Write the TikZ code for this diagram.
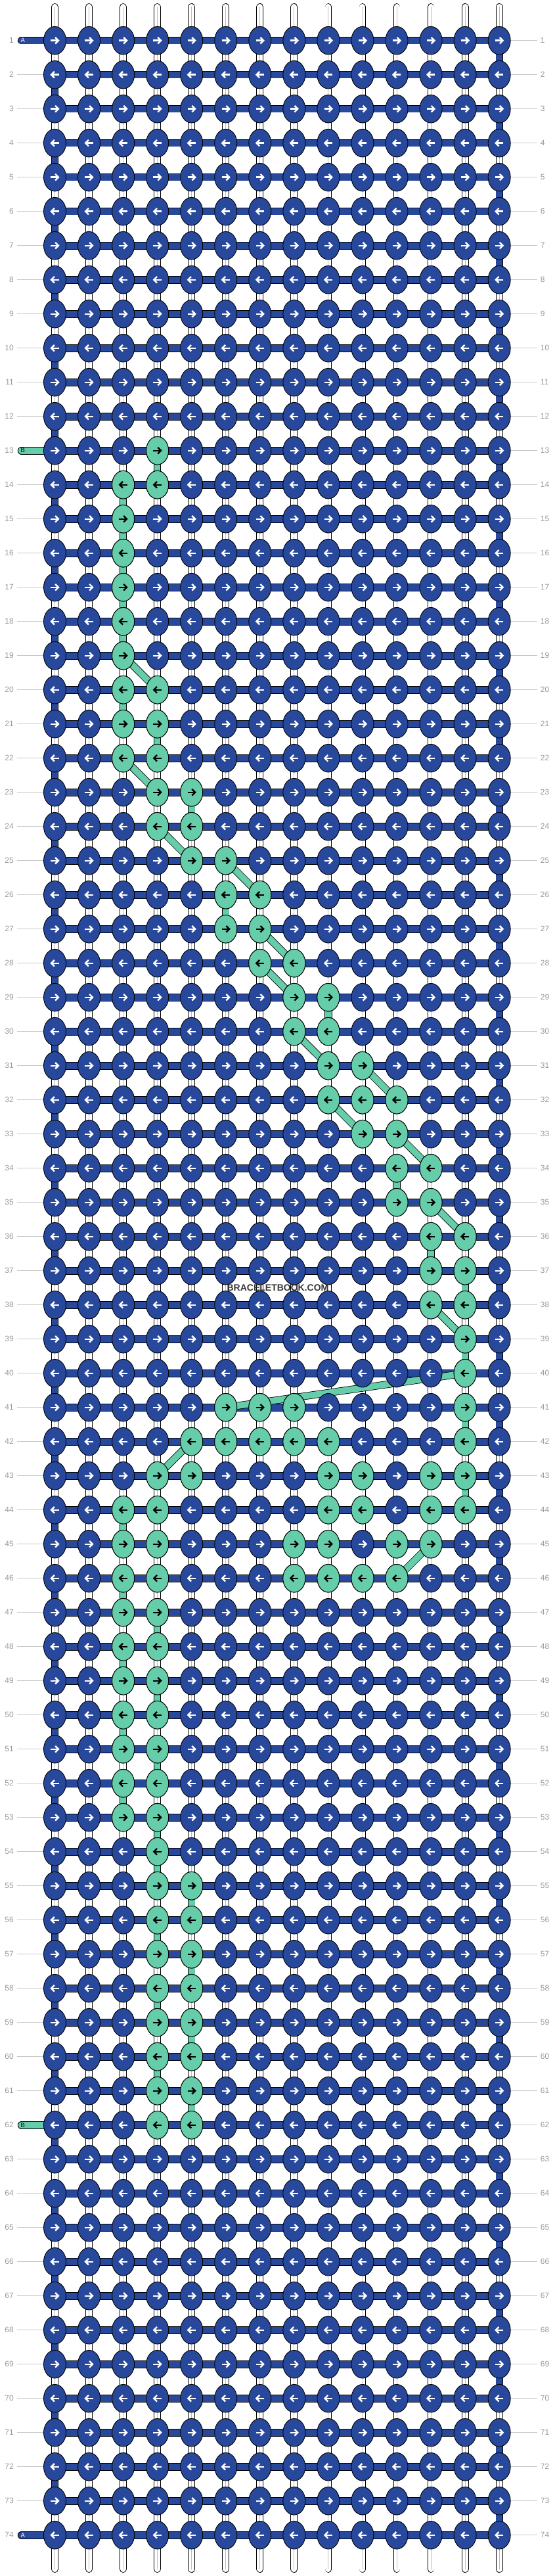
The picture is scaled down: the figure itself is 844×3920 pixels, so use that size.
\documentclass[tikz,border=0pt]{standalone}
\usepackage{fontspec}
\setmainfont{Liberation Sans}
\usetikzlibrary{shapes.geometric}
\definecolor{kblue}{HTML}{28489B}
\definecolor{kgreen}{HTML}{66CDAA}
\definecolor{numgray}{HTML}{9A9A9A}
\definecolor{linegray}{HTML}{C8C8C8}
\definecolor{warpline}{HTML}{BDBDBD}
\tikzset{
  knot/.style={ellipse, draw=black, line width=0.9pt, minimum width=34pt, minimum height=42.6pt, inner sep=0pt},
  bluek/.style={knot, fill=kblue},
  greenk/.style={knot, fill=kgreen},
  numlab/.style={text=numgray, font=\fontsize{12}{14}\selectfont, inner sep=0pt},
  gline/.style={draw=linegray, line width=0.9pt},
  outl/.style={draw=black, line width=11.6pt},
  inl/.style={line width=9.9pt},
  arrR/.pic={\draw[line width=2.4pt, line cap=butt, line join=miter] (-6.2,0) -- (5.0,0);
             \draw[line width=2.4pt, line cap=butt, line join=miter] (0.6,-4.8) -- (5.4,0) -- (0.6,4.8);},
  arrL/.pic={\draw[line width=2.4pt, line cap=butt, line join=miter] (6.2,0) -- (-5.0,0);
             \draw[line width=2.4pt, line cap=butt, line join=miter] (-0.6,-4.8) -- (-5.4,0) -- (-0.6,4.8);},
  wm/.style={font=\bfseries\fontsize{14}{16}\selectfont, inner sep=0pt}
}
\begin{document}
\begin{tikzpicture}[x=1pt,y=-1pt]
\fill[white] (0,0) rectangle (844,3920);
\useasboundingbox (0,0) rectangle (844,3920);
% knot positions
\foreach \r in {1,...,74}{
  \foreach \c in {1,...,14}{
    \coordinate (p-\r-\c) at ({83.5+52.05*(\c-1)},{61.7+52*(\r-1)});
  }
}
% warp ends
\foreach \c in {1,...,14}{
  \coordinate (wt-\c) at ({83.5+52.05*(\c-1)},10.4);
  \coordinate (wb-\c) at ({83.5+52.05*(\c-1)},3909.6);
  \draw[black, line width=10.8pt, line cap=round] (wt-\c) -- (wb-\c);
  \draw[white, line width=9.0pt, line cap=round] (wt-\c) -- (wb-\c);
  \draw[warpline, line width=0.9pt] (wt-\c) -- (wb-\c);
}
% working string A turning at the edges
\foreach \r in {1,...,73}{
  \pgfmathtruncatemacro\rn{\r+1}
  \ifodd\r\relax \def\ec{14}\else \def\ec{1}\fi
  \draw[outl, line width=11.2pt] (p-\r-\ec) -- (p-\rn-\ec);
  \draw[kblue, line width=9.6pt] (p-\r-\ec) -- (p-\rn-\ec);
}
% horizontal bars of string A
\foreach \r in {1,...,74}{
  \draw[outl] (p-\r-1) -- (p-\r-14);
  \draw[kblue, inl] (p-\r-1) -- (p-\r-14);
}
% string B path between rows
\def\bpath{13/4/4,14/3/3,15/3/3,16/3/3,17/3/3,18/3/3,19/3/4,20/3/3,21/4/4,22/3/4,23/5/5,24/4/5,25/6/7,26/6/6,27/7/8,28/7/8,29/9/9,30/8/9,31/10/11,32/9/10,33/11/12,34/11/11,35/12/13,36/12/12,37/13/13,38/12/13,39/13/13,40/13/6,41/13/13,42/5/4,43/13/13,44/3/3,45/12/11,46/3/3,47/4/4,48/3/3,49/4/4,50/3/3,51/4/4,52/3/3,53/4/4,54/4/4,55/5/5,56/4/4,57/5/5,58/4/4,59/5/5,60/4/4,61/5/5}
\foreach \r/\a/\b in \bpath{
  \pgfmathtruncatemacro\rn{\r+1}
  \draw[outl, line width=11.2pt] (p-\r-\a) -- (p-\rn-\b);
}
\foreach \r/\a/\b in \bpath{
  \pgfmathtruncatemacro\rn{\r+1}
  \draw[kgreen, line width=9.6pt] (p-\r-\a) -- (p-\rn-\b);
}
% stubs
\coordinate (s-1) at (32.6,61.7);
\coordinate (s-13) at (32.6,685.7);
\coordinate (s-62) at (32.6,3233.7);
\coordinate (s-74) at (32.6,3857.7);
\draw[outl, line cap=round] (s-1) -- (p-1-1);
\draw[kblue, inl, line cap=round] (s-1) -- (p-1-1);
\draw[outl, line cap=round] (s-74) -- (p-74-1);
\draw[kblue, inl, line cap=round] (s-74) -- (p-74-1);
\draw[outl, line cap=round] (s-13) -- (p-13-1);
\draw[kgreen, inl, line cap=round] (s-13) -- (p-13-1);
\draw[outl, line cap=round] (s-62) -- (p-62-1);
\draw[kgreen, inl, line cap=round] (s-62) -- (p-62-1);
\node[font=\fontsize{9.5}{10}\selectfont, text=white, inner sep=0pt] (la-1) at ([xshift=2.2pt]s-1) {A};
\node[font=\fontsize{9.5}{10}\selectfont, text=white, inner sep=0pt] (la-74) at ([xshift=2.2pt]s-74) {A};
\node[font=\fontsize{9.5}{10}\selectfont, text=black, inner sep=0pt] (lb-13) at ([xshift=2.2pt]s-13) {B};
\node[font=\fontsize{9.5}{10}\selectfont, text=black, inner sep=0pt] (lb-62) at ([xshift=2.2pt]s-62) {B};
% knots
\foreach \r in {1,...,74}{
  \foreach \c in {1,...,14}{
    \node[bluek] (k-\r-\c) at (p-\r-\c) {};
    \ifodd\r\relax \pic[white] at (p-\r-\c) {arrR};\else \pic[white] at (p-\r-\c) {arrL};\fi
  }
}
\foreach \r/\gl in {13/{4},14/{3,4},15/{3},16/{3},17/{3},18/{3},19/{3},20/{3,4},21/{3,4},22/{3,4},23/{4,5},24/{4,5},25/{5,6},26/{6,7},27/{6,7},28/{7,8},29/{8,9},30/{8,9},31/{9,10},32/{9,10,11},33/{10,11},34/{11,12},35/{11,12},36/{12,13},37/{12,13},38/{12,13},39/{13},40/{13},41/{6,7,8,13},42/{5,6,7,8,9,13},43/{4,5,9,10,12,13},44/{3,4,9,10,12,13},45/{3,4,8,9,11,12},46/{3,4,8,9,10,11},47/{3,4},48/{3,4},49/{3,4},50/{3,4},51/{3,4},52/{3,4},53/{3,4},54/{4},55/{4,5},56/{4,5},57/{4,5},58/{4,5},59/{4,5},60/{4,5},61/{4,5},62/{4,5}}{
  \foreach \c in \gl {
    \node[greenk] (k-\r-\c) at (p-\r-\c) {};
    \ifodd\r\relax \pic[black] at (p-\r-\c) {arrR};\else \pic[black] at (p-\r-\c) {arrL};\fi
  }
}
% row numbers and leader lines
\foreach \r in {1,...,74}{
  \node[numlab, anchor=east] (nl-\r) at (21,{61.7+52*(\r-1)}) {\r};
  \node[numlab, anchor=west] (nr-\r) at (822.7,{61.7+52*(\r-1)}) {\r};
  \draw[gline] (k-\r-14.east) -- ([xshift=-4.7pt]nr-\r.west);
}
\foreach \r in {2,...,12,14,15,...,61,63,64,...,73}{
  \draw[gline] ([xshift=5pt]nl-\r.east) -- (k-\r-1.west);
}
% watermark
\coordinate (wmc) at (423,1959.6);
\node[wm, text=black!78] (wm) at (wmc) {BRACELETBOOK.COM};
\end{tikzpicture}
\end{document}
